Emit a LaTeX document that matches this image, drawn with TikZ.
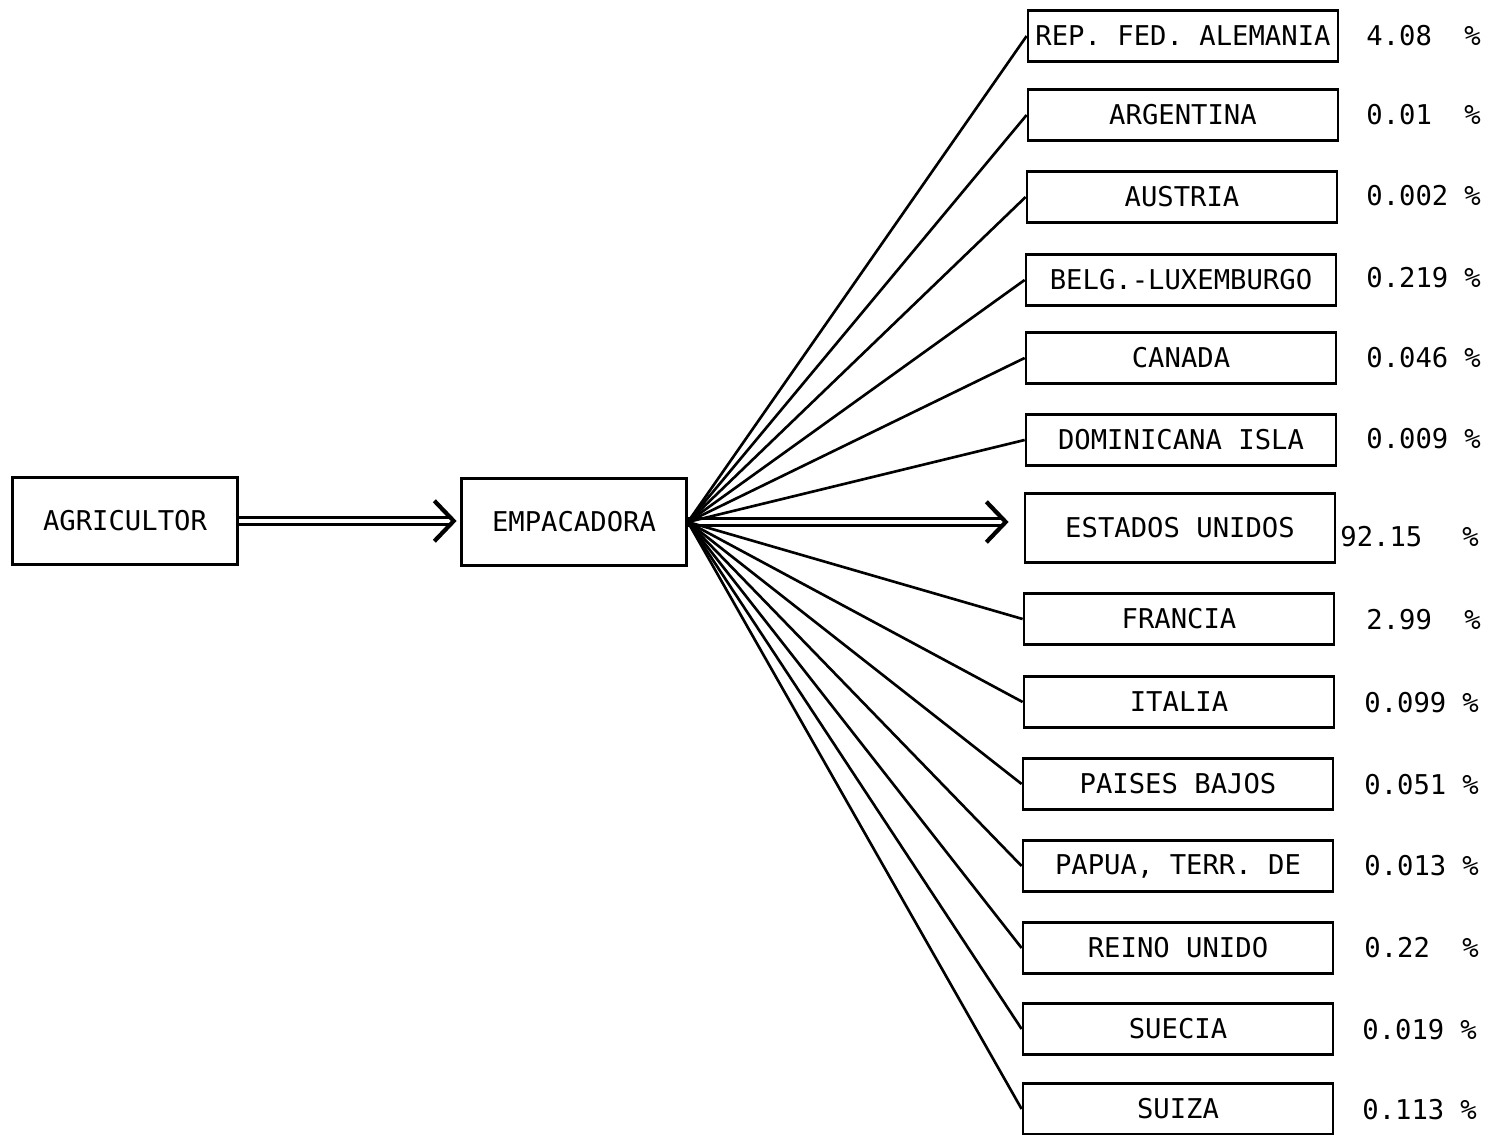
\documentclass[tikz,border=0pt]{standalone}
\usepackage{fontspec}
\newfontfamily\maquina{DejaVu Sans Mono}
\usetikzlibrary{arrows.meta,positioning}
\tikzset{
    caja/.style={
        rectangle,
        draw,
        line width=1.6pt,
        inner sep=0pt,
        align=center
    },
    origen/.style={caja, minimum width=4.5cm, minimum height=1.73cm},
    pais/.style={caja, minimum width=6.2cm, minimum height=1.02cm},
    cifra/.style={anchor=west, inner sep=0pt},
    ramal/.style={line width=1.5pt},
    flecha/.style={double, double distance=2pt, line width=1.6pt,
        -{Straight Barb[length=11pt, width=23pt, line width=2.4pt]}}
}
\newcommand{\porc}[2][1.96cm]{\makebox[#1][l]{#2}\%}

\begin{document}
\begin{tikzpicture}[x=0.02cm, y=-0.02cm, font=\maquina\fontsize{15.5}{18}\selectfont]
        \useasboundingbox (0,0) rectangle (1489,1135);
        % cadena de origen
        \node[origen] (agricultor) at (125,521) {AGRICULTOR};
        \node[origen] (empacadora) at (574,522) {EMPACADORA};
        % paises de destino
        \node[pais] (alemania) at (1183,36) {REP. FED. ALEMANIA};
        \node[pais] (argentina) at (1183,115) {ARGENTINA};
        \node[pais] (austria) at (1182,197) {AUSTRIA};
        \node[pais] (belgica) at (1181,280) {BELG.-LUXEMBURGO};
        \node[pais] (canada) at (1181,358) {CANADA};
        \node[pais] (dominicana) at (1181,440) {DOMINICANA ISLA};
        \node[pais, minimum height=1.38cm] (estados) at (1180,528) {ESTADOS UNIDOS};
        \node[pais] (francia) at (1179,619) {FRANCIA};
        \node[pais] (italia) at (1179,702) {ITALIA};
        \node[pais] (paises) at (1178,784) {PAISES BAJOS};
        \node[pais] (papua) at (1178,866) {PAPUA, TERR. DE};
        \node[pais] (reino) at (1178,948) {REINO UNIDO};
        \node[pais] (suecia) at (1178,1029) {SUECIA};
        \node[pais] (suiza) at (1178,1109) {SUIZA};
        % porcentajes
        \node[cifra] (palemania) at (1366,36) {\porc{4.08}};
        \node[cifra] (pargentina) at (1366,115) {\porc{0.01}};
        \node[cifra] (paustria) at (1366,196) {\porc{0.002}};
        \node[cifra] (pbelgica) at (1366,278) {\porc{0.219}};
        \node[cifra] (pcanada) at (1366,358) {\porc{0.046}};
        \node[cifra] (pdominicana) at (1366,439) {\porc{0.009}};
        \node[cifra] (pestados) at (1340,537) {\porc[2.44cm]{92.15}};
        \node[cifra] (pfrancia) at (1366,620) {\porc{2.99}};
        \node[cifra] (pitalia) at (1364,703) {\porc{0.099}};
        \node[cifra] (ppaises) at (1364,785) {\porc{0.051}};
        \node[cifra] (ppapua) at (1364,866) {\porc{0.013}};
        \node[cifra] (preino) at (1364,948) {\porc{0.22}};
        \node[cifra] (psuecia) at (1362,1030) {\porc{0.019}};
        \node[cifra] (psuiza) at (1362,1110) {\porc{0.113}};
        % flujos
        \draw[flecha, shorten >=2pt] (agricultor.east) -- (agricultor.east -| empacadora.west);
        \draw[flecha, shorten >=0.3cm] (empacadora.east) -- (empacadora.east -| estados.west);
        \draw[ramal] (empacadora.east) -- (alemania.west);
        \draw[ramal] (empacadora.east) -- (argentina.west);
        \draw[ramal] (empacadora.east) -- (austria.west);
        \draw[ramal] (empacadora.east) -- (belgica.west);
        \draw[ramal] (empacadora.east) -- (canada.west);
        \draw[ramal] (empacadora.east) -- (dominicana.west);
        \draw[ramal] (empacadora.east) -- (francia.west);
        \draw[ramal] (empacadora.east) -- (italia.west);
        \draw[ramal] (empacadora.east) -- (paises.west);
        \draw[ramal] (empacadora.east) -- (papua.west);
        \draw[ramal] (empacadora.east) -- (reino.west);
        \draw[ramal] (empacadora.east) -- (suecia.west);
        \draw[ramal] (empacadora.east) -- (suiza.west);
    \end{tikzpicture}
\end{document}
